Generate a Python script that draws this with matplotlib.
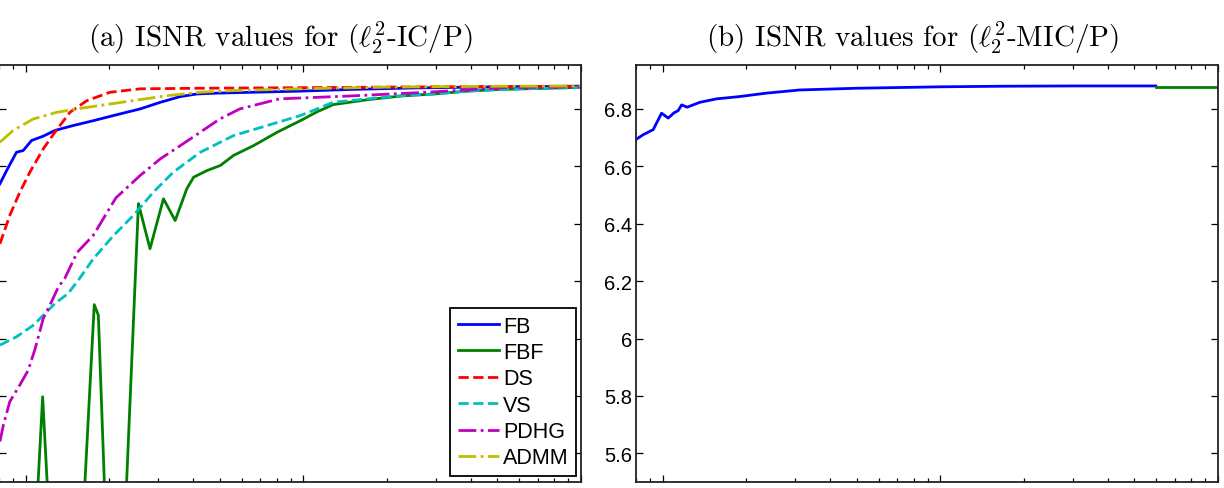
import matplotlib
matplotlib.use('Agg')
import matplotlib.pyplot as plt

plt.rcParams['mathtext.fontset'] = 'cm'
plt.rcParams['font.family'] = ['Liberation Sans', 'DejaVu Sans']

# (a) l2^2-IC/P
fb_x = [0.806, 0.852, 0.925, 0.978, 1.048, 1.155, 1.273, 1.48, 1.75, 2.07, 2.58, 3.05, 3.6, 4.13, 4.88, 9.75, 15, 25, 50, 100]
fb_y = [6.539, 6.585, 6.649, 6.655, 6.690, 6.705, 6.725, 6.742, 6.759, 6.777, 6.800, 6.823, 6.843, 6.852, 6.855, 6.862, 6.868, 6.873, 6.877, 6.879]

fbf_x = [0.806, 1.079, 1.149, 1.223, 1.592, 1.763, 1.824, 1.95, 2.26, 2.544, 2.80, 3.13, 3.45, 3.8, 4.02, 4.49, 5.02, 5.6, 6.61, 8.05, 9.75, 11.2, 12.8, 17, 22.5, 29.5, 39, 51.5, 100]
fbf_y = [5.30, 5.30, 5.797, 5.30, 5.30, 6.118, 6.081, 5.30, 5.30, 6.470, 6.313, 6.487, 6.411, 6.522, 6.562, 6.585, 6.603, 6.638, 6.672, 6.719, 6.759, 6.790, 6.815, 6.832, 6.845, 6.852, 6.862, 6.868, 6.875]

ds_x = [0.806, 0.875, 0.951, 1.034, 1.155, 1.273, 1.44, 1.66, 2.01, 2.58, 4.25, 9.75, 20, 50, 100]
ds_y = [6.330, 6.429, 6.510, 6.580, 6.661, 6.719, 6.788, 6.829, 6.858, 6.870, 6.872, 6.874, 6.876, 6.878, 6.879]

vs_x = [0.806, 0.925, 1.063, 1.155, 1.273, 1.42, 1.56, 1.75, 2.07, 2.44, 2.88, 3.4, 4.25, 5.6, 7.4, 9.75, 11.2, 12.8, 17, 22.5, 29.5, 39, 51.5, 100]
vs_y = [5.977, 6.006, 6.046, 6.081, 6.122, 6.157, 6.209, 6.278, 6.359, 6.429, 6.510, 6.580, 6.649, 6.707, 6.742, 6.777, 6.800, 6.823, 6.835, 6.846, 6.852, 6.862, 6.868, 6.875]

pdhg_x = [0.806, 0.83, 0.875, 0.951, 1.02, 1.08, 1.155, 1.22, 1.31, 1.38, 1.53, 1.75, 2.11, 2.58, 3.05, 3.6, 4.25, 5.0, 5.9, 8.2, 14.7, 27.8, 53, 100]
pdhg_y = [5.641, 5.699, 5.780, 5.838, 5.890, 5.965, 6.070, 6.116, 6.180, 6.209, 6.300, 6.360, 6.490, 6.568, 6.626, 6.672, 6.719, 6.765, 6.800, 6.835, 6.845, 6.858, 6.874, 6.877]

admm_x = [0.806, 0.9, 1.063, 1.29, 1.52, 1.85, 2.44, 3.22, 4.25, 5.6, 9.75, 20, 50, 100]
admm_y = [6.684, 6.725, 6.765, 6.788, 6.800, 6.812, 6.829, 6.846, 6.858, 6.864, 6.870, 6.876, 6.879, 6.880]

# (b) l2^2-MIC/P
fb2_x = [0.798, 0.849, 0.923, 0.989, 1.045, 1.095, 1.135, 1.168, 1.223, 1.359, 1.56, 1.89, 2.36, 3.11, 5.0, 10, 16.6, 30, 59.7]
fb2_y = [6.693, 6.710, 6.728, 6.785, 6.768, 6.786, 6.794, 6.814, 6.806, 6.823, 6.835, 6.843, 6.855, 6.866, 6.872, 6.877, 6.879, 6.880, 6.880]
fbf2_x = [59.7, 80, 100]
fbf2_y = [6.875, 6.875, 6.875]

names = ['FB', 'FBF', 'DS', 'VS', 'PDHG', 'ADMM']
colors = [(0, 0, 1), (0, 0.5, 0), (1, 0, 0), (0, 0.75, 0.75), (0.75, 0, 0.75), (0.75, 0.75, 0)]
styles = ['-', '-', '--', '--', '-.', '-.']

W, H = 1224, 489
fig = plt.figure(figsize=(W / 100, H / 100), dpi=100)
ax1 = fig.add_axes([-1 / W, 6 / H, 582 / W, 417 / H])
ax2 = fig.add_axes([636 / W, 6 / H, 582 / W, 417 / H])

series = [(fb_x, fb_y), (fbf_x, fbf_y), (ds_x, ds_y), (vs_x, vs_y), (pdhg_x, pdhg_y), (admm_x, admm_y)]
for (x, y), n, c, s in zip(series, names, colors, styles):
    ax1.plot(x, y, s, color=c, lw=2, label=n)

ax2.plot(fb2_x, fb2_y, '-', color=colors[0], lw=2)
ax2.plot(fbf2_x, fbf2_y, '-', color=colors[1], lw=2)

for ax in (ax1, ax2):
    ax.set_xscale('log')
    ax.set_xlim(0.8, 100)
    ax.set_ylim(5.5, 6.953)
    ax.set_yticks([5.6, 5.8, 6.0, 6.2, 6.4, 6.6, 6.8])
    ax.set_yticklabels(['5.6', '5.8', '6', '6.2', '6.4', '6.6', '6.8'])
    ax.tick_params(which='both', direction='in', top=True, right=True, labelsize=14.5, width=0.9)
    # x labels fall below the cropped bottom edge, as in the reference
    ax.tick_params(axis='x', which='major', length=5, pad=16)
    ax.tick_params(axis='x', which='minor', length=3)
    ax.tick_params(axis='y', length=5, pad=3)
    for sp in ax.spines.values():
        sp.set_linewidth(1.3)
        sp.set_color('#222222')

leg = ax1.legend(loc='lower right', bbox_to_anchor=(576 / W, 1 - 477 / H),
                 bbox_transform=fig.transFigure, fontsize=15.5, handlelength=1.9,
                 handletextpad=0.2, labelspacing=0.25, borderpad=0.35,
                 borderaxespad=0, fancybox=False, framealpha=1, edgecolor='black')
leg.get_frame().set_linewidth(1.3)

fig.text(280 / W, 1 - 38 / H, r'(a) ISNR values for ($\ell_2^2$-IC/P)',
         family='cmr10', fontsize=21, ha='center', va='center')
fig.text(912 / W, 1 - 38 / H, r'(b) ISNR values for ($\ell_2^2$-MIC/P)',
         family='cmr10', fontsize=21, ha='center', va='center')

fig.savefig('out.png', dpi=100)
